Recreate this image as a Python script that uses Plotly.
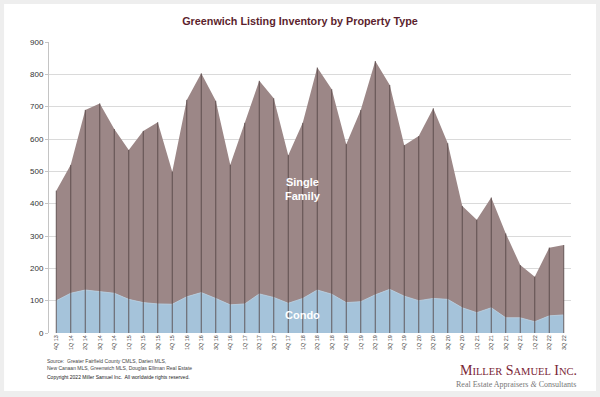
import plotly.graph_objects as go

quarters = ["4Q 13", "1Q 14", "2Q 14", "3Q 14", "4Q 14", "1Q 15", "2Q 15", "3Q 15", "4Q 15",
            "1Q 16", "2Q 16", "3Q 16", "4Q 16", "1Q 17", "2Q 17", "3Q 17", "4Q 17",
            "1Q 18", "2Q 18", "3Q 18", "4Q 18", "1Q 19", "2Q 19", "3Q 19", "4Q 19",
            "1Q 20", "2Q 20", "3Q 20", "4Q 20", "1Q 21", "2Q 21", "3Q 21", "4Q 21",
            "1Q 22", "2Q 22", "3Q 22"]

total = [440, 520, 690, 710, 631, 566, 625, 652, 499,
         721, 803, 718, 520, 650, 780, 726, 550,
         650, 821, 754, 584, 690, 841, 767, 581,
         609, 695, 587, 393, 350, 419, 308, 210,
         174, 264, 272]

condo = [100, 123, 133, 128, 123, 104, 94, 90, 89,
         112, 125, 107, 87, 90, 121, 110, 92,
         107, 133, 120, 94, 97, 118, 135, 114,
         100, 107, 104, 78, 63, 78, 47, 47,
         35, 53, 56]

single_family = [t - c for t, c in zip(total, condo)]

fig = go.Figure()
fig.add_trace(go.Scatter(x=quarters, y=condo, stackgroup="one", mode="lines",
                         line=dict(width=0.8, color="#b4cfe3"), fillcolor="#a5c3da",
                         name="Condo", hoverinfo="skip"))
fig.add_trace(go.Scatter(x=quarters, y=single_family, stackgroup="one", mode="lines",
                         line=dict(width=0), fillcolor="#9c8787",
                         name="Single Family", hoverinfo="skip"))

# drop lines
dx, dy = [], []
for q, t in zip(quarters, total):
    dx += [q, q, None]
    dy += [0, t, None]
fig.add_trace(go.Scatter(x=dx, y=dy, mode="lines", line=dict(color="#4f4040", width=0.8),
                         hoverinfo="skip", showlegend=False))

fig.update_layout(
    width=600, height=397,
    margin=dict(l=49, r=29, t=42, b=64),
    paper_bgcolor="#eeeeee",
    plot_bgcolor="white",
    showlegend=False,
    font=dict(family="Liberation Sans, Arial, sans-serif", color="#333333"),
    title=dict(text="<b>Greenwich Listing Inventory by Property Type</b>",
               x=0.5, xanchor="center", y=0.947, yanchor="middle",
               font=dict(size=10.8, color="#5c1f2e")),
    xaxis=dict(type="category", range=[-0.5, 35.5], tickangle=-90,
               tickfont=dict(size=5.5, color="#444444"), showgrid=False,
               showline=False, ticks="", zeroline=False),
    yaxis=dict(range=[0, 900], dtick=100, showgrid=True, gridcolor="#dadada",
               gridwidth=1, showline=True, linecolor="#c4c4c4", linewidth=1,
               ticks="outside", ticklen=3, tickcolor="#c4c4c4",
               tickfont=dict(size=8, color="#333333"), zeroline=False),
    shapes=[dict(type="rect", xref="paper", yref="paper", x0=-0.086, x1=1.048,
                 y0=-0.199, y1=1.131, fillcolor="white", line=dict(width=0), layer="below")],
    annotations=[
        dict(text="<b>Single<br>Family</b>", x=17, y=445, xref="x", yref="y",
             showarrow=False, font=dict(size=11, color="white"), align="center"),
        dict(text="<b>Condo</b>", x=17, y=55, xref="x", yref="y",
             showarrow=False, font=dict(size=11, color="white")),
        dict(text="Source:  Greater Fairfield County CMLS, Darien MLS,<br>New Canaan MLS, Greenwich MLS, Douglas Elliman Real Estate",
             xref="paper", yref="paper", x=(45 - 49) / 522, y=(333 - 356) / 291,
             xanchor="left", yanchor="top", align="left", showarrow=False,
             font=dict(size=5, color="#444444")),
        dict(text="Copyright 2022 Miller Samuel Inc.  All worldwide rights reserved.",
             xref="paper", yref="paper", x=(45 - 49) / 522, y=(333 - 372) / 291,
             xanchor="left", yanchor="top", align="left", showarrow=False,
             font=dict(size=5, color="#222222")),
        dict(text="M<span style='font-size:10.5px'>ILLER</span> S<span style='font-size:10.5px'>AMUEL</span> I<span style='font-size:10.5px'>NC</span>.",
             xref="paper", yref="paper", x=(579 - 49) / 522, y=(333 - 370) / 291,
             xanchor="right", yanchor="middle", showarrow=False,
             font=dict(family="Liberation Serif, Times New Roman, serif", size=14, color="#7a2535")),
        dict(text="Real Estate Appraisers <i>&amp;</i> Consultants",
             xref="paper", yref="paper", x=(578 - 49) / 522, y=(333 - 384) / 291,
             xanchor="right", yanchor="middle", showarrow=False,
             font=dict(family="Liberation Serif, Times New Roman, serif", size=8, color="#777777")),
    ],
)

fig.write_html("out.html", config={"displayModeBar": False, "staticPlot": True},
               post_script="document.body.style.margin='0';document.body.style.padding='0';document.body.style.background='#eeeeee';")
